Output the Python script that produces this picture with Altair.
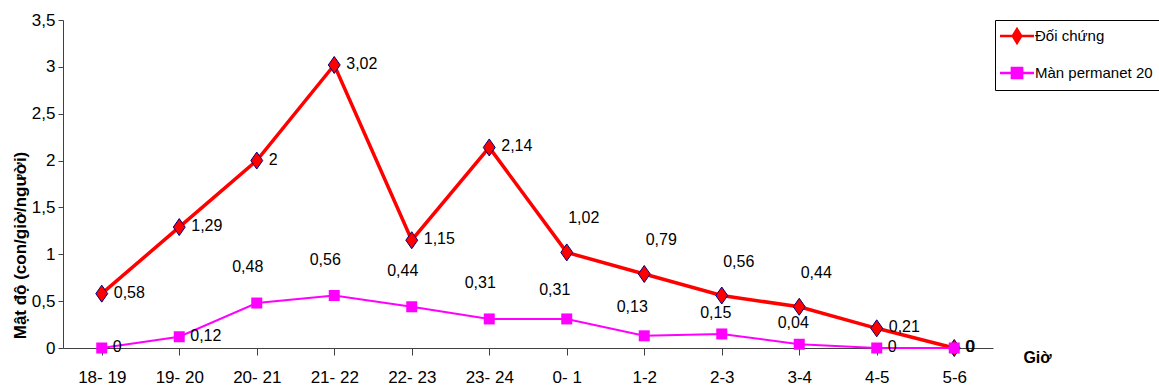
import altair as alt
import pandas as pd

# Hourly biting density, two groups
hours = ["18- 19", "19- 20", "20- 21", "21- 22", "22- 23", "23- 24",
         "0- 1", "1-2", "2-3", "3-4", "4-5", "5-6"]
series_names = ["Đối chứng", "Màn permanet 20"]
control = [0.58, 1.29, 2, 3.02, 1.15, 2.14, 1.02, 0.79, 0.56, 0.44, 0.21, 0]
permanet = [0, 0.12, 0.48, 0.56, 0.44, 0.31, 0.31, 0.13, 0.15, 0.04, 0, 0]

# where each value label sits relative to its marker
control_label_side = ["right"] * 6 + ["above"] * 4 + ["right"] * 2
permanet_label_side = ["right"] * 2 + ["above"] * 4 + ["mid"] * 2 + ["near"] * 2 + ["right"] * 2

rows = []
for i, h in enumerate(hours):
    rows.append({"hour": h, "series": series_names[0], "value": control[i],
                 "side": control_label_side[i]})
    rows.append({"hour": h, "series": series_names[1], "value": permanet[i],
                 "side": permanet_label_side[i]})
df = pd.DataFrame(rows)

FONT = "Liberation Sans, Arial, sans-serif"
RED = "#FF0000"
MAGENTA = "#FF00FF"
AXIS_COLOR = "#404040"

x_enc = alt.X(
    "hour:N", sort=hours,
    scale=alt.Scale(paddingInner=0, paddingOuter=0),
    axis=alt.Axis(
        title="Giờ", titleX=974, titleY=9, titleAlign="center",
        titleBaseline="middle", titleFont=FONT, titleFontSize=16,
        titleFontWeight="bold", titleColor="black",
        labelAngle=0, labelFont=FONT, labelFontSize=17, labelColor="black",
        labelPadding=14, tickSize=7, bandPosition=0,
        domainColor=AXIS_COLOR, tickColor=AXIS_COLOR, grid=False,
    ),
)
y_enc = alt.Y(
    "value:Q",
    scale=alt.Scale(domain=[0, 3.5], nice=False, zero=True),
    axis=alt.Axis(
        values=[0, 0.5, 1, 1.5, 2, 2.5, 3, 3.5],
        labelExpr="replace(toString(datum.value), '.', ',')",
        title="Mật độ (con/giờ/người)", titleX=-43, titleY=225,
        titleAngle=270, titleAlign="center", titleBaseline="middle",
        titleFont=FONT, titleFontSize=17, titleFontWeight="bold",
        titleColor="black",
        labelFont=FONT, labelFontSize=17, labelColor="black", labelPadding=3,
        tickSize=5, domainColor=AXIS_COLOR, tickColor=AXIS_COLOR, grid=False,
    ),
)

base = alt.Chart(df).encode(x=x_enc, y=y_enc).transform_calculate(
    label="replace(toString(datum.value), '.', ',')"
)
is_control = alt.datum.series == series_names[0]
is_permanet = alt.datum.series == series_names[1]

diamond = "M0,-1L0.7,0L0,1L-0.7,0Z"

control_line = base.transform_filter(is_control).mark_line(
    color=RED, strokeWidth=3.5)
control_pts = base.transform_filter(is_control).mark_point(
    shape=diamond, size=289, filled=True, fill=RED, stroke="#000080",
    strokeWidth=1, opacity=1)
permanet_line = base.transform_filter(is_permanet).mark_line(
    color=MAGENTA, strokeWidth=2)
permanet_pts = base.transform_filter(is_permanet).mark_point(
    shape="square", size=121, filled=True, color=MAGENTA, opacity=1)

text_style = dict(font=FONT, fontSize=16, color="black", baseline="middle")


def labels(series_test, side, align, dx, dy):
    return base.transform_filter(series_test).transform_filter(
        alt.datum.side == side
    ).mark_text(align=align, dx=dx, dy=dy, **text_style).encode(text="label:N")


control_right = labels(is_control, "right", "left", 12, -1)
control_above = labels(is_control, "above", "center", 17, -34)
permanet_right = labels(is_permanet, "right", "left", 11, -1)
permanet_above = labels(is_permanet, "above", "center", -9, -36)
permanet_mid = labels(is_permanet, "mid", "center", -12, -29)
permanet_near = labels(is_permanet, "near", "center", -6, -21)

# legend symbols: a short line with the series marker on it
legend_paths = [
    "M-2,0H2M0,-0.8L0.5,0L0,0.8L-0.5,0Z",
    "M-2,0H2M-0.6,-0.6H0.6V0.6H-0.6Z",
]
legend = alt.Legend(
    title=None, orient="none", legendX=932, legendY=0, direction="vertical",
    symbolSize=289, symbolStrokeWidth=2.5, symbolOpacity=1,
    labelFont=FONT, labelFontSize=15, labelColor="black",
    strokeColor="black", fillColor="white", padding=6, rowPadding=14,
    symbolOffset=6, labelOffset=8,
)
legend_layer = alt.Chart(df).mark_point(opacity=0).encode(
    x=x_enc, y=y_enc,
    fill=alt.Fill("series:N", scale=alt.Scale(domain=series_names, range=[RED, MAGENTA]), legend=legend),
    stroke=alt.Stroke("series:N", scale=alt.Scale(domain=series_names, range=[RED, MAGENTA]), legend=legend),
    shape=alt.Shape("series:N", scale=alt.Scale(domain=series_names, range=legend_paths), legend=legend),
)

chart = alt.layer(
    legend_layer, control_line, control_pts, permanet_line, permanet_pts,
    control_right, control_above, permanet_right, permanet_above,
    permanet_mid, permanet_near,
).properties(
    width=930, height=328,
    padding={"left": 63, "top": 20, "right": 166, "bottom": 42},
    autosize=alt.AutoSizeParams(type="none"),
    background="white",
).configure_view(stroke=None)

chart.save("out.html", embed_options={"renderer": "svg", "actions": False})
